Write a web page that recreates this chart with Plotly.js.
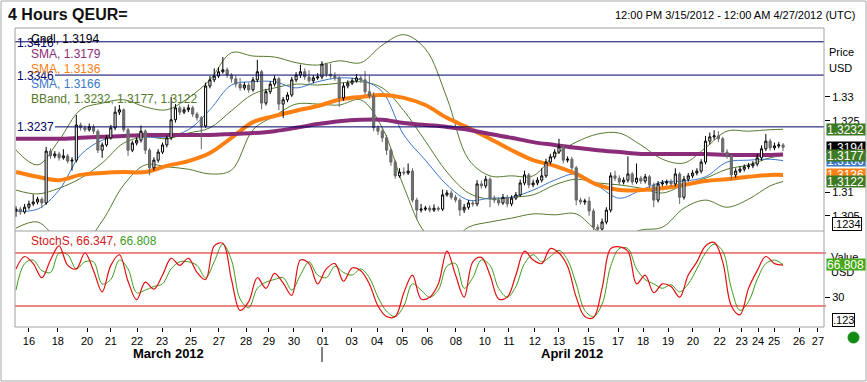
<!DOCTYPE html>
<html><head><meta charset="utf-8">
<script src="https://cdn.plot.ly/plotly-3.0.1.min.js"></script>
<style>html,body{margin:0;padding:0;background:#fff;}#chart{width:867px;height:382px;}</style>
</head><body><div id="chart"></div>
<script>
// ---------- DATA (4-hour bars, QEUR=) ----------
const openP = [1.3060,1.3064,1.3058,1.3068,1.3075,1.3079,1.3085,1.3077,1.3186,1.3176,
1.3180,1.3172,1.3176,1.3165,1.3167,1.3241,1.3235,1.3231,1.3237,1.3228,
1.3188,1.3199,1.3214,1.3235,1.3268,1.3273,1.3231,1.3188,1.3203,1.3209,
1.3228,1.3188,1.3151,1.3167,1.3184,1.3199,1.3214,1.3252,1.3277,1.3268,
1.3273,1.3277,1.3264,1.3256,1.3239,1.3323,1.3336,1.3344,1.3353,1.3357,
1.3346,1.3338,1.3327,1.3319,1.3325,1.3315,1.3336,1.3353,1.3287,1.3311,
1.3327,1.3338,1.3285,1.3294,1.3304,1.3336,1.3346,1.3353,1.3342,1.3334,
1.3340,1.3342,1.3369,1.3348,1.3344,1.3340,1.3298,1.3323,1.3329,1.3334,
1.3340,1.3336,1.3311,1.3302,1.3235,1.3228,1.3214,1.3188,1.3163,1.3134,
1.3142,1.3140,1.3144,1.3083,1.3062,1.3064,1.3066,1.3062,1.3066,1.3064,
1.3094,1.3098,1.3089,1.3083,1.3062,1.3068,1.3077,1.3075,1.3117,1.3113,
1.3127,1.3087,1.3083,1.3077,1.3089,1.3075,1.3087,1.3094,1.3119,1.3136,
1.3115,1.3119,1.3125,1.3134,1.3163,1.3174,1.3184,1.3195,1.3167,1.3169,
1.3151,1.3083,1.3079,1.3081,1.3060,1.3026,1.3022,1.3037,1.3062,1.3134,
1.3129,1.3121,1.3125,1.3138,1.3121,1.3129,1.3123,1.3132,1.3115,1.3083,
1.3117,1.3119,1.3121,1.3117,1.3138,1.3089,1.3127,1.3134,1.3140,1.3144,
1.3163,1.3207,1.3216,1.3218,1.3212,1.3184,1.3176,1.3136,1.3144,1.3148,
1.3153,1.3155,1.3159,1.3172,1.3191,1.3207,1.3193,1.3197,1.3199];
const highP = [1.3070,1.3069,1.3075,1.3082,1.3095,1.3090,1.3089,1.3195,1.3192,1.3186,
1.3185,1.3190,1.3180,1.3173,1.3262,1.3246,1.3240,1.3244,1.3242,1.3232,
1.3204,1.3220,1.3241,1.3280,1.3283,1.3276,1.3235,1.3208,1.3215,1.3240,
1.3232,1.3192,1.3173,1.3190,1.3204,1.3219,1.3300,1.3285,1.3282,1.3279,
1.3284,1.3281,1.3268,1.3260,1.3330,1.3344,1.3360,1.3362,1.3384,1.3362,
1.3350,1.3345,1.3340,1.3331,1.3330,1.3342,1.3378,1.3357,1.3317,1.3333,
1.3345,1.3342,1.3300,1.3310,1.3342,1.3352,1.3368,1.3360,1.3356,1.3346,
1.3350,1.3375,1.3372,1.3370,1.3352,1.3344,1.3330,1.3335,1.3340,1.3348,
1.3345,1.3355,1.3345,1.3310,1.3240,1.3235,1.3220,1.3192,1.3168,1.3150,
1.3152,1.3160,1.3150,1.3088,1.3075,1.3071,1.3072,1.3074,1.3070,1.3105,
1.3104,1.3103,1.3094,1.3087,1.3075,1.3083,1.3082,1.3125,1.3124,1.3134,
1.3131,1.3093,1.3089,1.3096,1.3094,1.3093,1.3100,1.3126,1.3145,1.3140,
1.3126,1.3131,1.3150,1.3170,1.3180,1.3190,1.3212,1.3200,1.3175,1.3174,
1.3155,1.3088,1.3086,1.3090,1.3065,1.3032,1.3044,1.3068,1.3141,1.3145,
1.3135,1.3131,1.3175,1.3142,1.3160,1.3134,1.3138,1.3136,1.3120,1.3123,
1.3125,1.3126,1.3127,1.3150,1.3142,1.3134,1.3140,1.3146,1.3150,1.3169,
1.3218,1.3225,1.3230,1.3228,1.3216,1.3190,1.3180,1.3150,1.3154,1.3158,
1.3161,1.3165,1.3180,1.3198,1.3222,1.3212,1.3204,1.3205,1.3203];
const lowP = [1.3048,1.3052,1.3054,1.3063,1.3071,1.3074,1.3066,1.3073,1.3170,1.3171,
1.3166,1.3168,1.3160,1.3145,1.3162,1.3229,1.3226,1.3227,1.3222,1.3182,
1.3172,1.3195,1.3210,1.3230,1.3262,1.3226,1.3176,1.3184,1.3198,1.3204,
1.3180,1.3135,1.3145,1.3162,1.3180,1.3194,1.3209,1.3246,1.3262,1.3264,
1.3268,1.3258,1.3250,1.3190,1.3235,1.3318,1.3331,1.3340,1.3349,1.3340,
1.3330,1.3320,1.3313,1.3314,1.3309,1.3311,1.3331,1.3274,1.3282,1.3306,
1.3322,1.3272,1.3256,1.3289,1.3300,1.3331,1.3340,1.3336,1.3328,1.3329,
1.3336,1.3337,1.3342,1.3338,1.3334,1.3279,1.3292,1.3318,1.3325,1.3330,
1.3330,1.3305,1.3296,1.3228,1.3220,1.3205,1.3178,1.3155,1.3128,1.3130,
1.3135,1.3136,1.3078,1.3042,1.3057,1.3060,1.3057,1.3058,1.3059,1.3060,
1.3090,1.3084,1.3078,1.3050,1.3056,1.3063,1.3069,1.3070,1.3107,1.3108,
1.3068,1.3077,1.3071,1.3073,1.3068,1.3070,1.3083,1.3090,1.3114,1.3108,
1.3110,1.3114,1.3120,1.3130,1.3158,1.3169,1.3180,1.3160,1.3162,1.3145,
1.3072,1.3074,1.3073,1.3050,1.3020,1.3018,1.3019,1.3032,1.3057,1.3123,
1.3115,1.3116,1.3120,1.3115,1.3117,1.3117,1.3118,1.3108,1.3068,1.3078,
1.3112,1.3114,1.3111,1.3112,1.3075,1.3084,1.3122,1.3129,1.3135,1.3139,
1.3158,1.3200,1.3210,1.3205,1.3178,1.3170,1.3125,1.3130,1.3140,1.3143,
1.3148,1.3150,1.3154,1.3166,1.3186,1.3187,1.3188,1.3192,1.3186];
const closeP = [1.3064,1.3058,1.3068,1.3075,1.3079,1.3085,1.3077,1.3186,1.3176,1.3180,
1.3172,1.3176,1.3165,1.3167,1.3241,1.3235,1.3231,1.3237,1.3228,1.3188,
1.3199,1.3214,1.3235,1.3268,1.3273,1.3231,1.3188,1.3203,1.3209,1.3228,
1.3188,1.3151,1.3167,1.3184,1.3199,1.3214,1.3252,1.3277,1.3268,1.3273,
1.3277,1.3264,1.3256,1.3239,1.3323,1.3336,1.3344,1.3353,1.3357,1.3346,
1.3338,1.3327,1.3319,1.3325,1.3315,1.3336,1.3353,1.3287,1.3311,1.3327,
1.3338,1.3285,1.3294,1.3304,1.3336,1.3346,1.3353,1.3342,1.3334,1.3340,
1.3342,1.3369,1.3348,1.3344,1.3340,1.3298,1.3323,1.3329,1.3334,1.3340,
1.3336,1.3311,1.3302,1.3235,1.3228,1.3214,1.3188,1.3163,1.3134,1.3142,
1.3140,1.3144,1.3083,1.3062,1.3064,1.3066,1.3062,1.3066,1.3064,1.3094,
1.3098,1.3089,1.3083,1.3062,1.3068,1.3077,1.3075,1.3117,1.3113,1.3127,
1.3087,1.3083,1.3077,1.3089,1.3075,1.3087,1.3094,1.3119,1.3136,1.3115,
1.3119,1.3125,1.3134,1.3163,1.3174,1.3184,1.3195,1.3167,1.3169,1.3151,
1.3083,1.3079,1.3081,1.3060,1.3026,1.3022,1.3037,1.3062,1.3134,1.3129,
1.3121,1.3125,1.3138,1.3121,1.3129,1.3123,1.3132,1.3115,1.3083,1.3117,
1.3119,1.3121,1.3117,1.3138,1.3089,1.3127,1.3134,1.3140,1.3144,1.3163,
1.3207,1.3216,1.3218,1.3212,1.3184,1.3176,1.3136,1.3144,1.3148,1.3153,
1.3155,1.3159,1.3172,1.3191,1.3207,1.3193,1.3197,1.3199,1.3194];

// indicator lines, sampled at these bar numbers
const lineBars = [0,5,10,15,20,25,30,35,40,45,50,55,60,65,70,75,80,85,90,95,100,105,110,115,120,125,130,135,140,145,150,155,160,165,170,175,178];
const smaPurple = [1.3212,1.3212,1.3212,1.3214,1.3216,1.3218,1.3220,1.3220,1.3220,1.3220,1.3222,1.3224,1.3228,1.3235,1.3243,1.3249,1.3252,1.3252,1.3245,1.3241,1.3237,1.3231,1.3222,1.3214,1.3205,1.3199,1.3193,1.3188,1.3184,1.3180,1.3180,1.3180,1.3180,1.3178,1.3178,1.3178,1.3179];
const smaOrange = [1.3142,1.3132,1.3125,1.3136,1.3140,1.3142,1.3142,1.3155,1.3165,1.3182,1.3214,1.3247,1.3260,1.3271,1.3281,1.3294,1.3300,1.3304,1.3298,1.3283,1.3256,1.3235,1.3212,1.3188,1.3167,1.3155,1.3138,1.3115,1.3104,1.3104,1.3108,1.3115,1.3123,1.3127,1.3132,1.3136,1.3136];
const smaBlue = [1.3060,1.3064,1.3104,1.3178,1.3209,1.3220,1.3216,1.3216,1.3231,1.3273,1.3325,1.3332,1.3332,1.3319,1.3332,1.3340,1.3336,1.3311,1.3220,1.3167,1.3115,1.3083,1.3087,1.3089,1.3104,1.3125,1.3138,1.3113,1.3087,1.3104,1.3121,1.3123,1.3132,1.3163,1.3167,1.3169,1.3166];
const bbUpper = [1.3188,1.3157,1.3209,1.3273,1.3287,1.3294,1.3279,1.3273,1.3298,1.3336,1.3393,1.3386,1.3384,1.3372,1.3367,1.3376,1.3372,1.3409,1.3431,1.3401,1.3298,1.3169,1.3134,1.3134,1.3134,1.3178,1.3205,1.3222,1.3224,1.3199,1.3169,1.3161,1.3193,1.3228,1.3228,1.3231,1.3232];
const bbMid = [1.3104,1.3096,1.3108,1.3129,1.3161,1.3203,1.3216,1.3212,1.3224,1.3235,1.3271,1.3306,1.3319,1.3327,1.3325,1.3329,1.3332,1.3319,1.3271,1.3207,1.3142,1.3098,1.3085,1.3089,1.3094,1.3115,1.3127,1.3119,1.3115,1.3108,1.3098,1.3115,1.3129,1.3148,1.3157,1.3172,1.3177];
const bbLower = [1.3024,1.3037,1.2999,1.2986,1.3039,1.3115,1.3157,1.3153,1.3148,1.3138,1.3146,1.3231,1.3260,1.3285,1.3285,1.3283,1.3294,1.3235,1.3111,1.3014,1.2988,1.3026,1.3037,1.3045,1.3054,1.3052,1.3054,1.3018,1.3005,1.3020,1.3026,1.3066,1.3083,1.3068,1.3085,1.3113,1.3122];

// slow stochastic, every second bar
const stochK = [62,76,68,52,72,88,66,62,80,60, 36,66,78,48,27,47,39,55,74,66, 74,58,50,88,91,50,15,25,52,40, 57,46,32,72,68,45,62,68,48,63, 60,45,20,8,8,35,55,28,30,45, 82,55,30,70,75,55,28,30,55,82, 72,68,85,80,65,30,8,7,40,85, 87,82,45,55,35,45,42,30,55,70, 88,92,70,20,10,40,60,76,68,66.347];
const stochD = [38,68,72,60,58,80,78,62,70,70, 45,50,72,62,35,38,42,45,62,70, 70,66,52,70,90,72,28,18,40,47, 50,52,38,55,70,55,52,65,58,55, 62,52,30,14,8,20,45,38,30,38, 65,68,40,52,72,66,40,30,42,68, 78,70,76,83,72,45,15,8,22,65, 85,85,62,50,45,40,44,36,45,62, 80,90,82,40,15,25,50,68,72,66.808];

const dayLabels = ['16','18','20','21','22','23','25','27','28','29','30','01','03','04','05','06','08','10','11','12','13','15','17','18','19','20','22','23','24','25','26','27'];
const dayBars = [3.0,9.7,16.5,22.0,28.1,33.9,40.6,47.1,53.4,58.7,64.5,71.2,77.9,83.8,89.6,95.4,102.1,108.8,114.4,120.4,126.0,132.9,139.7,145.5,151.3,157.1,163.3,168.4,172.2,175.9,181.7,186.1];
const priceTicks = [1.305, 1.31, 1.325, 1.33];
const levelLines = [1.3416, 1.3346, 1.3237];
const stochLevels = [80, 20];

// ---------- GEOMETRY ----------
const W = 867, H = 382, L = 15, R = 824, T = 28, B = 327, SPLIT = 231;
const px = v => (v - L) / (R - L);
const py = v => (B - v) / (B - T);
const FONT = 'Liberation Sans, Arial, sans-serif';
const bars = closeP.map((_, i) => i);
const stochBars = stochK.map((_, i) => i * 2);
const XR = [-0.23, 187.5];
const YR = [1.3018, 1.3445];
const SR = [-3.8, 104.9];

const C = {purple:'#8b2c78', orange:'#ff8012', blue:'#3a78c8', bb:'#557a2e', navy:'#000066', red:'#e01010', sgreen:'#3c9c1c'};

const traces = [
  {x: lineBars, y: bbUpper, type:'scatter', mode:'lines', line:{color:C.bb, width:1, shape:'spline'}, xaxis:'x', yaxis:'y'},
  {x: lineBars, y: bbMid, type:'scatter', mode:'lines', line:{color:C.bb, width:1, shape:'spline'}, xaxis:'x', yaxis:'y'},
  {x: lineBars, y: bbLower, type:'scatter', mode:'lines', line:{color:C.bb, width:1, shape:'spline'}, xaxis:'x', yaxis:'y'},
  {x: lineBars, y: smaBlue, type:'scatter', mode:'lines', line:{color:C.blue, width:1, shape:'spline'}, xaxis:'x', yaxis:'y'},
  {x: lineBars, y: smaOrange, type:'scatter', mode:'lines', line:{color:C.orange, width:4, shape:'spline'}, xaxis:'x', yaxis:'y'},
  {x: lineBars, y: smaPurple, type:'scatter', mode:'lines', line:{color:C.purple, width:4, shape:'spline'}, xaxis:'x', yaxis:'y'},
  {x: bars, open: openP, high: highP, low: lowP, close: closeP, type:'candlestick', xaxis:'x3', yaxis:'y3',
   increasing:{line:{color:'#000', width:1}, fillcolor:'#ffffff'},
   decreasing:{line:{color:'#666', width:1}, fillcolor:'#707070'}, whiskerwidth:0},
  {x: stochBars, y: stochD, type:'scatter', mode:'lines', line:{color:C.sgreen, width:1, shape:'spline'}, xaxis:'x2', yaxis:'y2'},
  {x: stochBars, y: stochK, type:'scatter', mode:'lines', line:{color:C.red, width:1.2, shape:'spline'}, xaxis:'x2', yaxis:'y2'}
];

const splitY = py(SPLIT);
const shapes = [];
levelLines.forEach((v, k) => shapes.push({type:'line', xref:'paper', yref:'y', x0: k === 0 ? 0 : px(55), x1: 1, y0: v, y1: v, line:{color:C.navy, width:1}}));
stochLevels.forEach(v => shapes.push({type:'line', xref:'paper', yref:'y2', x0: 0, x1: px(826), y0: v, y1: v, line:{color:C.red, width:1}}));
shapes.push({type:'rect', xref:'paper', yref:'paper', x0:0, x1:1, y0:0, y1:1, line:{color:'#a0a0a0', width:1}});
shapes.push({type:'line', xref:'paper', yref:'paper', x0:0, x1:1, y0:splitY, y1:splitY, line:{color:'#a0a0a0', width:1}});
shapes.push({type:'line', xref:'paper', yref:'paper', x0:px(322), x1:px(322), y0:py(347), y1:py(362), line:{color:'#000', width:1}});
shapes.push({type:'circle', xref:'paper', yref:'paper', x0:px(848), x1:px(859), y0:py(343), y1:py(332), fillcolor:'#138a13', line:{color:'#138a13', width:1}});
shapes.push({type:'rect', xref:'paper', yref:'paper', x0:px(1), x1:px(866), y0:py(381), y1:py(1), line:{color:'#a8a8a8', width:1}});

const ann = [];
const txt = (x, y, text, color, size, anchor, extra) => ann.push(Object.assign({xref:'paper', yref:'paper', x: px(x), y: py(y), text, showarrow:false, xanchor: anchor || 'left', yanchor:'middle', font:{family:FONT, size: size || 12, color}}, extra || {}));

txt(857, 15, '12:00 PM 3/15/2012 - 12:00 AM 4/27/2012 (UTC)', '#000', 11, 'right');
// level labels
txt(15, 43, '1.3416', C.navy, 12);
txt(15, 76, '1.3346', C.navy, 12);
txt(15, 127, '1.3237', C.navy, 12);
// legend
txt(29, 39, 'Cndl, 1.3194', '#000', 12);
txt(29, 54, 'SMA, 1.3179', C.purple, 12);
txt(29, 69, 'SMA, 1.3136', C.orange, 12);
txt(29, 84, 'SMA, 1.3166', C.blue, 12);
txt(29, 99, 'BBand, 1.3232, 1.3177, 1.3122', C.bb, 12);
txt(29, 241, '<span style="color:#d01818">StochS, 66.347, </span><span style="color:#3c9c1c">66.808</span>', '#d01818', 12);
// right axis titles
txt(827, 52, 'Price', '#000', 11);
txt(827, 68, 'USD', '#000', 11);
txt(829, 257, 'Value', '#000', 11);
txt(829, 272, 'USD', '#000', 11);
// format boxes
txt(832, 224, '.1234', '#000', 11, 'left', {bordercolor:'#000', borderwidth:1, borderpad:0, bgcolor:'#fff'});
txt(832, 320, '.123', '#000', 11, 'left', {bordercolor:'#000', borderwidth:1, borderpad:0, bgcolor:'#fff'});
// month labels
txt(168, 353, '<b>March 2012</b>', '#000', 13, 'center');
txt(572, 353, '<b>April 2012</b>', '#000', 13, 'center');
// value badges
const badge = (val, yref, bg, label) => ann.push({xref:'paper', yref, x: px(826), y: val, text: label, showarrow:false, xanchor:'left', yanchor:'middle', align:'left', width: 38, height: 11, bgcolor: bg, borderpad: 0, font:{family:FONT, size:12, color:'#fff'}});
badge(1.3194, 'y', '#000000', '1.3194');
badge(1.3166, 'y', '#3a78c8', '1.3166');
badge(1.3136, 'y', '#ff8012', '1.3136');
badge(1.3177, 'y', '#3e7a22', '1.3177');
badge(1.3232, 'y', '#3e7a22', '1.3232');
badge(1.3122, 'y', '#3e7a22', '1.3122');
badge(66.808, 'y2', '#46a818', '66.808');

const tickFont = {family:FONT, size:11, color:'#000'};
const layout = {
  width: W, height: H, margin:{l:L, r:W - R, t:T, b:H - B}, paper_bgcolor:'#fff', plot_bgcolor:'#fff',
  showlegend:false, hovermode:false,
  title:{text:'<b>4 Hours QEUR=</b>', x: 8 / W, xanchor:'left', y: 1 - 14 / H, yanchor:'middle', xref:'container', yref:'container', font:{family:FONT, size:16, color:'#111'}},
  xaxis:{domain:[0,1], range:XR, anchor:'y', showticklabels:false, ticks:'', showgrid:false, zeroline:false, rangeslider:{visible:false}},
  xaxis3:{range:XR, overlaying:'x', anchor:'y3', visible:false, showgrid:false, zeroline:false, rangeslider:{visible:false}},
  yaxis:{domain:[splitY, 1], range:YR, side:'right', tickvals:priceTicks, ticktext:priceTicks.map(v => String(v)), ticks:'outside', ticklen:5, tickcolor:'#000', tickfont:tickFont, showgrid:false, zeroline:false, showline:false},
  yaxis3:{range:YR, overlaying:'y', side:'right', visible:false, showgrid:false, zeroline:false},
  xaxis2:{domain:[0,1], range:XR, anchor:'y2', tickvals:dayBars, ticktext:dayLabels, tickangle:0, ticks:'outside', ticklen:4, tickcolor:'#000', tickfont:tickFont, showgrid:false, zeroline:false, showline:false, rangeslider:{visible:false}},
  yaxis2:{domain:[0, splitY], range:SR, side:'right', tickvals:[30], ticktext:['30'], ticks:'outside', ticklen:5, tickcolor:'#000', tickfont:tickFont, showgrid:false, zeroline:false, showline:false},
  shapes, annotations: ann
};
Plotly.newPlot('chart', traces, layout, {staticPlot:true, displayModeBar:false});
</script></body></html>
